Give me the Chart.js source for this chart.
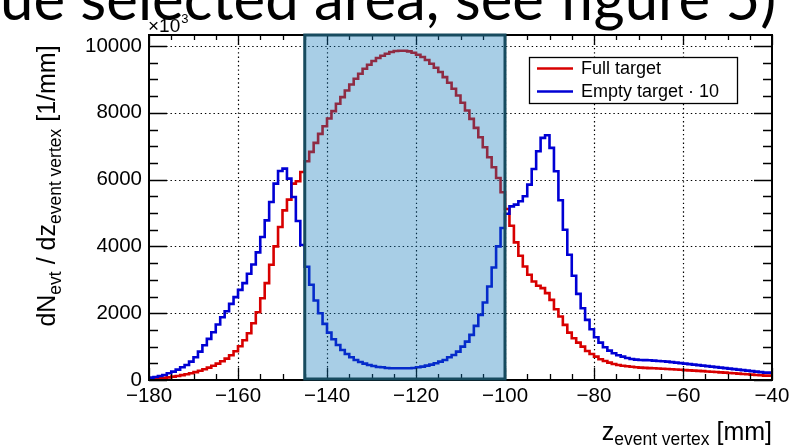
<!DOCTYPE html>
<html>
<head>
<meta charset="utf-8">
<script src="https://cdn.jsdelivr.net/npm/chart.js@4.4.1/dist/chart.umd.min.js"></script>
<style>
  html, body { margin: 0; padding: 0; background: #ffffff; overflow: hidden; }
  #wrap { position: relative; width: 800px; height: 447px; }
</style>
</head>
<body>
<div id="wrap"><canvas id="c" width="800" height="447"></canvas></div>
<script>
// Event-vertex z distribution, 1 mm bins from -180 mm to -40 mm (140 bins).
const Z_MIN = -180;
const Z_MAX = -40;
const BIN_WIDTH = 1;

// Full target, counts per mm (x10^3), one value per bin starting at -180 mm
const FULL_TARGET = [
  20, 30, 40, 50, 65, 80, 100, 120, 145, 170,
  200, 235, 275, 320, 370, 425, 490, 560, 640, 740,
  860, 1010, 1190, 1400, 1700, 2030, 2450, 2900, 3450, 4000,
  4580, 5080, 5400, 5880, 5950,
  6230, 6550, 6830, 7100, 7370, 7600, 7830, 8050, 8270, 8470,
  8670, 8850, 9020, 9170, 9320, 9440, 9550, 9640, 9710, 9770,
  9820, 9850, 9860, 9860, 9840, 9800, 9740, 9670, 9580, 9470,
  9350, 9220, 9070, 8900, 8720, 8520, 8300, 8070, 7820, 7550,
  7270, 6970, 6670, 6370, 6050,
  5620, 5120, 4620, 4120, 3720, 3400, 3150, 2950, 2820, 2750,
  2600, 2400, 2120, 1900, 1650, 1420, 1250, 1120, 1000, 870,
  780, 700, 620, 570, 520, 480, 450, 425, 410, 395, 380,
  372, 364, 357, 350, 343, 336, 329, 322, 315, 308,
  297, 289, 281, 273, 265, 256, 247, 238, 229, 220,
  210, 200, 190, 180, 170, 160, 150, 140, 130
];

// Empty target scaled by 10, same binning
const EMPTY_TARGET_X10 = [
  50, 70, 90, 120, 150, 200, 250, 310, 380, 450,
  550, 680, 850, 1040, 1230, 1430, 1660, 1880, 2060, 2280,
  2480, 2700, 2900, 3180, 3460, 3820, 4280, 4780, 5330, 5880,
  6260, 6330, 6030, 5480, 4760,
  4040, 3390, 2850, 2380, 2000, 1680, 1420, 1220, 1050, 900,
  780, 680, 600, 540, 490, 450, 420, 390, 380, 360,
  350, 350, 350, 350, 350, 360, 380, 400, 430, 460,
  500, 550, 600, 680, 750, 850, 1000, 1150, 1350, 1620,
  1950, 2320, 2800, 3370, 4000,
  4550, 4980, 5200, 5250, 5350, 5500, 5850, 6320, 6850, 7250,
  7330, 6950, 6250, 5380, 4500, 3750, 3120, 2580, 2150, 1800,
  1520, 1280, 1120, 980, 880, 800, 740, 700, 660, 630, 610,
  600, 595, 590, 580, 570, 560, 550, 535, 520, 505,
  490, 475, 460, 445, 430, 415, 400, 385, 370, 355,
  340, 325, 310, 295, 280, 265, 250, 235, 220
];

const SERIES_NAMES = ['Full target', 'Empty target \u00b7 10'];
const X_TICKS = [-180, -160, -140, -120, -100, -80, -60, -40];
const Y_TICKS = [0, 2000, 4000, 6000, 8000, 10000];
const X_MINOR_STEP = 5;
const Y_MINOR_STEP = 500;
const Y_MAX = 10330;
// selected z window (mm)
const CUT_WINDOW = [-145, -100];

const RED = '#d80000';
const BLUE = '#0000d4';
const FONT = '"Liberation Sans", Arial, Helvetica, sans-serif';

// histogram -> stepped line points (left edges + closing right edge)
function toSteps(values) {
  const pts = values.map((v, i) => ({ x: Z_MIN + i * BIN_WIDTH, y: v }));
  pts.push({ x: Z_MIN + values.length * BIN_WIDTH, y: values[values.length - 1] });
  return pts;
}

function fmtTick(v) {
  return v < 0 ? '\u2212' + Math.abs(v) : String(v);
}

const framePlugin = {
  id: 'rootFrame',
  beforeDatasetsDraw(chart) {
    const { ctx, chartArea: a, scales: { x, y } } = chart;
    ctx.save();
    ctx.strokeStyle = '#000';
    ctx.lineWidth = 1.2;
    ctx.setLineDash([1.4, 2.9]);
    X_TICKS.forEach(v => {
      if (v <= Z_MIN || v >= Z_MAX) return;
      const px = Math.round(x.getPixelForValue(v)) + 0.5;
      ctx.beginPath(); ctx.moveTo(px, a.top); ctx.lineTo(px, a.bottom); ctx.stroke();
    });
    Y_TICKS.forEach(v => {
      if (v <= 0) return;
      const py = Math.round(y.getPixelForValue(v)) + 0.5;
      ctx.beginPath(); ctx.moveTo(a.left, py); ctx.lineTo(a.right, py); ctx.stroke();
    });
    ctx.restore();
  },
  afterDatasetsDraw(chart) {
    const { ctx, chartArea: a, scales: { x, y } } = chart;
    ctx.save();
    // axis frame
    ctx.strokeStyle = '#000';
    ctx.lineWidth = 2;
    ctx.strokeRect(a.left, a.top, a.right - a.left, a.bottom - a.top);
    ctx.lineWidth = 1.3;
    ctx.beginPath();
    for (let v = Z_MIN; v <= Z_MAX; v += X_MINOR_STEP) {
      const px = Math.round(x.getPixelForValue(v)) + 0.5;
      const major = X_TICKS.includes(v);
      const lb = major ? 12 : 6, lt = major ? 10 : 5;
      ctx.moveTo(px, a.bottom); ctx.lineTo(px, a.bottom - lb);
      ctx.moveTo(px, a.top); ctx.lineTo(px, a.top + lt);
    }
    for (let v = 0; v <= Y_MAX; v += Y_MINOR_STEP) {
      const py = Math.round(y.getPixelForValue(v)) + 0.5;
      const major = Y_TICKS.includes(v);
      const l = major ? 18 : 9;
      ctx.moveTo(a.left, py); ctx.lineTo(a.left + l, py);
      ctx.moveTo(a.right, py); ctx.lineTo(a.right - l, py);
    }
    ctx.stroke();

    // selected window overlay
    const x0 = x.getPixelForValue(CUT_WINDOW[0]);
    const x1 = x.getPixelForValue(CUT_WINDOW[1]);
    ctx.fillStyle = 'rgba(13, 119, 186, 0.36)';
    ctx.fillRect(x0, a.top, x1 - x0, a.bottom - a.top);
    ctx.strokeStyle = '#174b5f';
    ctx.lineWidth = 3;
    ctx.strokeRect(x0, a.top, x1 - x0, a.bottom - a.top - 1);
    ctx.restore();
  },
  afterDraw(chart) {
    const { ctx, chartArea: a } = chart;
    ctx.save();
    ctx.fillStyle = '#000';
    ctx.textBaseline = 'alphabetic';

    // caption above the pad, running off the left edge
    const caption = '(blue selected area, see figure 5)';
    const hidden = '(bl';
    ctx.font = '100px Lato, "Open Sans", sans-serif';
    const wVisible = ctx.measureText(caption.slice(hidden.length)).width;
    const size = 100 * 776 / wVisible;
    ctx.font = size.toFixed(1) + 'px Lato, "Open Sans", sans-serif';
    const off = ctx.measureText(hidden).width;
    ctx.textAlign = 'left';
    ctx.fillText(caption, -off, 20);

    // x10^3 multiplier
    ctx.font = '19px ' + FONT;
    ctx.fillText('\u00d710', a.left - 1, 32);
    const wm = ctx.measureText('\u00d710').width;
    ctx.font = '13px ' + FONT;
    ctx.fillText('3', a.left - 1 + wm + 1, 23);

    // x-axis title: z_{event vertex} [mm], right aligned to the frame
    const xParts = [
      { t: 'z', f: 25, dy: 0 },
      { t: 'event vertex', f: 17.5, dy: 5 },
      { t: ' [mm]', f: 25, dy: 0 }
    ];
    let total = 0;
    xParts.forEach(p => { ctx.font = p.f + 'px ' + FONT; p.w = ctx.measureText(p.t).width; total += p.w; });
    let cx = a.right - total;
    xParts.forEach(p => { ctx.font = p.f + 'px ' + FONT; ctx.fillText(p.t, cx, 440 + p.dy); cx += p.w; });

    // y-axis title: dN_evt / dz_event vertex [1/mm], rotated
    const yParts = [
      { t: 'dN', f: 25, dy: 0 },
      { t: 'evt', f: 17.5, dy: 6 },
      { t: ' / dz', f: 25, dy: 0 },
      { t: 'event vertex', f: 17.5, dy: 6 },
      { t: ' [1/mm]', f: 25, dy: 0 }
    ];
    total = 0;
    yParts.forEach(p => { ctx.font = p.f + 'px ' + FONT; p.w = ctx.measureText(p.t).width; total += p.w; });
    ctx.translate(55, 186);
    ctx.rotate(-Math.PI / 2);
    cx = -total / 2;
    yParts.forEach(p => { ctx.font = p.f + 'px ' + FONT; ctx.fillText(p.t, cx, p.dy); cx += p.w; });
    ctx.setTransform(1, 0, 0, 1, 0, 0);

    // legend
    const lx = 529.5, ly = 57.5, lw = 208, lh = 46;
    ctx.fillStyle = '#fff';
    ctx.fillRect(lx, ly, lw, lh);
    ctx.strokeStyle = '#000';
    ctx.lineWidth = 1.3;
    ctx.strokeRect(lx, ly, lw, lh);
    chart.data.datasets.forEach((ds, i) => {
      const yy = 68.5 + i * 23;
      ctx.strokeStyle = ds.borderColor;
      ctx.lineWidth = 2.6;
      ctx.beginPath(); ctx.moveTo(537, yy); ctx.lineTo(573, yy); ctx.stroke();
      ctx.fillStyle = '#000';
      ctx.font = '18px ' + FONT;
      ctx.textBaseline = 'middle';
      ctx.fillText(ds.label, 581, yy + 1);
    });
    ctx.restore();
  }
};

new Chart(document.getElementById('c'), {
  type: 'line',
  data: {
    datasets: [
      { label: SERIES_NAMES[0], data: toSteps(FULL_TARGET), borderColor: RED, borderWidth: 2.6,
        stepped: 'after', pointRadius: 0, fill: false, order: 1 },
      { label: SERIES_NAMES[1], data: toSteps(EMPTY_TARGET_X10), borderColor: BLUE, borderWidth: 2.6,
        stepped: 'after', pointRadius: 0, fill: false, order: 0 }
    ]
  },
  options: {
    responsive: false,
    animation: false,
    devicePixelRatio: 1,
    layout: { padding: { top: 35, right: 28, left: 0, bottom: 0 } },
    plugins: { legend: { display: false }, tooltip: { enabled: false } },
    scales: {
      x: {
        type: 'linear', min: Z_MIN, max: Z_MAX,
        afterBuildTicks: s => { s.ticks = X_TICKS.map(v => ({ value: v })); },
        afterFit: s => { s.height = 67; },
        grid: { display: false, drawTicks: false },
        border: { display: false },
        ticks: { color: '#000', font: { family: FONT, size: 20.5 }, padding: 4,
                 maxRotation: 0, autoSkip: false, callback: fmtTick }
      },
      y: {
        type: 'linear', min: 0, max: Y_MAX,
        afterBuildTicks: s => { s.ticks = Y_TICKS.map(v => ({ value: v })); },
        afterFit: s => { s.width = 149; },
        grid: { display: false, drawTicks: false },
        border: { display: false },
        ticks: { color: '#000', font: { family: FONT, size: 20.5 }, padding: 7, callback: v => String(v) }
      }
    }
  },
  plugins: [framePlugin]
});
</script>
</body>
</html>
